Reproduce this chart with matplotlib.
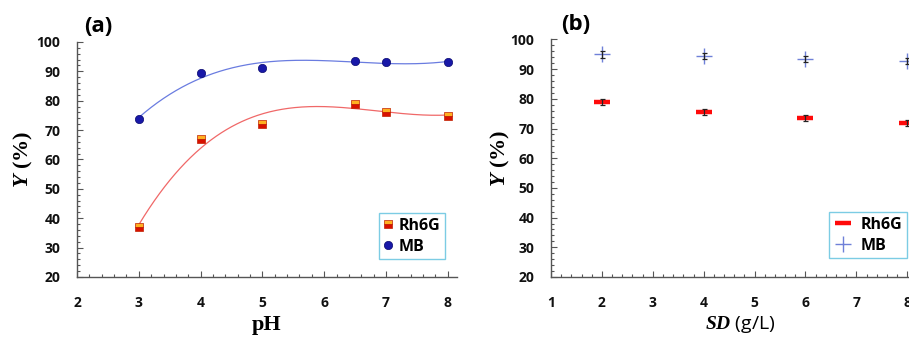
import numpy as np
import matplotlib
matplotlib.use("Agg")
import matplotlib.pyplot as plt
from matplotlib.ticker import MultipleLocator, AutoMinorLocator
from matplotlib.lines import Line2D

# ---- data ----
ph = [3, 4, 5, 6.5, 7, 8]
rh6g_ph = [36.9, 66.9, 72.1, 78.9, 76.2, 74.8]
mb_ph = [73.8, 89.3, 91.3, 93.5, 93.2, 93.1]

sd = [2, 4, 6, 8]
rh6g_sd = [79.0, 75.6, 73.6, 71.9]
rh6g_sd_err = [0.9, 0.9, 1.0, 1.0]
mb_sd = [95.0, 94.5, 93.4, 92.7]
mb_sd_err = [1.1, 1.1, 1.1, 1.1]

series_names = ["Rh6G", "MB"]

plt.rcParams["mathtext.fontset"] = "custom"
plt.rcParams["mathtext.it"] = "Liberation Serif:italic:bold"
plt.rcParams["mathtext.rm"] = "Liberation Serif:bold"

W, H = 909, 341
fig = plt.figure(figsize=(W / 100, H / 100), dpi=100)


def fig_rect(x0, y_top, x1, y_bot):
    return [x0 / W, 1 - y_bot / H, (x1 - x0) / W, (y_bot - y_top) / H]


SANS = "Open Sans"
edge_col = "#555555"
legend_edge = "#5BC0DE"


def style_axes(ax, xlo, xhi, xticks):
    ax.set_xlim(xlo, xhi)
    ax.set_ylim(20, 100)
    ax.set_xticks(xticks)
    ax.yaxis.set_major_locator(MultipleLocator(10))
    ax.xaxis.set_minor_locator(AutoMinorLocator(5))
    ax.yaxis.set_minor_locator(AutoMinorLocator(5))
    for s in ("top", "right"):
        ax.spines[s].set_visible(False)
    for s in ("left", "bottom"):
        ax.spines[s].set_color(edge_col)
        ax.spines[s].set_linewidth(1.0)
    ax.tick_params(which="both", direction="in", color=edge_col, width=0.8)
    ax.tick_params(which="major", length=4)
    ax.tick_params(which="minor", length=2.2)
    ax.tick_params(axis="x", which="major", pad=14)
    ax.tick_params(axis="y", which="major", pad=12)
    for lab in ax.get_xticklabels() + ax.get_yticklabels():
        lab.set_fontfamily(SANS)
        lab.set_fontweight("bold")
        lab.set_fontsize(10)
        lab.set_color("#111111")


# ---- panel (a): effect of pH ----
ax1 = fig.add_axes(fig_rect(77, 42, 457, 277))
style_axes(ax1, 2, 8.15, range(2, 9))

# polynomial trend lines through each series
xs = np.linspace(min(ph), max(ph), 300)
fit_r = np.polyval(np.polyfit(ph, rh6g_ph, 3), xs)
fit_b = np.polyval(np.polyfit(ph, mb_ph, 3), xs)
ax1.plot(xs, fit_r, color="#F06868", lw=0.9, zorder=2)
ax1.plot(xs, fit_b, color="#6A7CE0", lw=0.9, zorder=2)

ax1.plot(ph, rh6g_ph, ls="none", marker="s", ms=5.6, fillstyle="top",
         markerfacecolor="#FFB020", markerfacecoloralt="#D81000",
         markeredgecolor="#C02000", markeredgewidth=0.5, zorder=3,
         label=series_names[0])
ax1.plot(ph, mb_ph, ls="none", marker="o", ms=6.0, color="#1818A8",
         markeredgecolor="#0A0A70", markeredgewidth=0.5, zorder=3,
         label=series_names[1])

leg1 = ax1.legend(loc="upper left", bbox_to_anchor=(379 / W, 1 - 213 / H),
                  bbox_transform=fig.transFigure, frameon=True, fancybox=False,
                  prop=dict(family=SANS, weight="bold", size=11.5),
                  handlelength=0.5, handletextpad=0.4, borderpad=0.3,
                  labelspacing=0.3, borderaxespad=0)
leg1.get_frame().set_edgecolor(legend_edge)
leg1.get_frame().set_linewidth(1.0)

ax1.set_xlabel("pH", fontfamily="Liberation Serif", fontweight="bold",
               fontsize=16, va="top")
ax1.xaxis.set_label_coords(0.5, (277 - 315) / 235)
ax1.set_ylabel(r"$\it{Y}$ (%)", fontfamily="Liberation Serif",
               fontweight="bold", fontsize=16, va="center")
ax1.yaxis.set_label_coords((23 - 77) / 380, 0.5)
fig.text(84 / W, 1 - 27 / H, "(a)", family=SANS, weight="bold",
         fontsize=16, va="center", ha="left")

# ---- panel (b): effect of sorbent dose ----
ax2 = fig.add_axes(fig_rect(551, 39.5, 920, 277))
style_axes(ax2, 1, 8.25, range(1, 9))

ax2.plot(sd, rh6g_sd, ls="none", marker="_", ms=11, mew=3.2,
         color="#FF0A0A", zorder=2)
ax2.plot(sd, mb_sd, ls="none", marker="+", ms=12, mew=1.0,
         color="#6F80D8", zorder=2)
ax2.errorbar(sd, rh6g_sd, yerr=rh6g_sd_err, fmt="none", ecolor="#222222",
             elinewidth=0.9, capsize=1.8, capthick=0.9, zorder=3)
ax2.errorbar(sd, mb_sd, yerr=mb_sd_err, fmt="none", ecolor="#222222",
             elinewidth=0.9, capsize=1.8, capthick=0.9, zorder=3)

handles_b = [
    Line2D([], [], ls="none", marker="_", ms=11, mew=3.2, color="#FF0A0A"),
    Line2D([], [], ls="none", marker="+", ms=12, mew=1.0, color="#6F80D8"),
]
leg2 = ax2.legend(handles_b, series_names, loc="upper left",
                  bbox_to_anchor=(829 / W, 1 - 212 / H),
                  bbox_transform=fig.transFigure, frameon=True, fancybox=False,
                  prop=dict(family=SANS, weight="bold", size=11.5),
                  handlelength=1.2, handletextpad=0.5, borderpad=0.3,
                  labelspacing=0.3, borderaxespad=0)
leg2.get_frame().set_edgecolor(legend_edge)
leg2.get_frame().set_linewidth(1.0)

ax2.set_xlabel(r"$\it{SD}$ (g/L)", fontfamily=SANS, fontsize=14, va="top")
ax2.xaxis.set_label_coords((740 - 551) / 369, (277 - 314) / 237.5)
ax2.set_ylabel(r"$\it{Y}$ (%)", fontfamily="Liberation Serif",
               fontweight="bold", fontsize=16, va="center")
ax2.yaxis.set_label_coords((500 - 551) / 369, 0.5)
fig.text(561 / W, 1 - 25 / H, "(b)", family=SANS, weight="bold",
         fontsize=16, va="center", ha="left")

fig.savefig("out.png", dpi=100)
